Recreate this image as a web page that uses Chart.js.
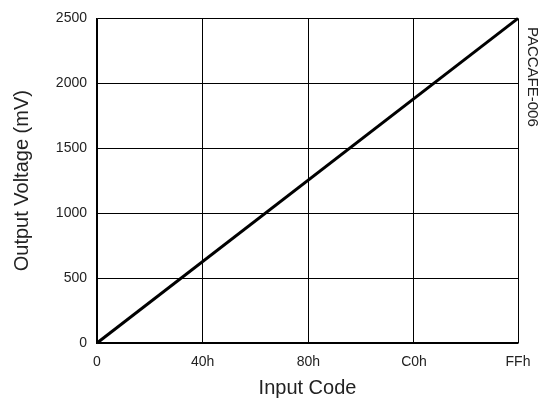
<!DOCTYPE html>
<html>
<head>
<meta charset="utf-8">
<script src="https://cdn.jsdelivr.net/npm/chart.js@4"></script>
<style>
  html, body { margin: 0; padding: 0; background: #fff; }
  #wrap { width: 549px; height: 400px; }
</style>
</head>
<body>
<div id="wrap"><canvas id="dacChart"></canvas></div>
<script>
// transfer curve end points, input code vs output voltage (mV)
const inputCodes = [0, 255];
const outputMv = [0, 2500];
const xTickValues = [0, 64, 128, 192, 255];
const xTickLabels = ['0', '40h', '80h', 'C0h', 'FFh'];
const yTickValues = [0, 500, 1000, 1500, 2000, 2500];

const font = 'Liberation Sans, Arial, sans-serif';

// figure id written down the right side
const sideLabel = {
    id: 'sideLabel',
    afterDraw(chart) {
        const c = chart.ctx;
        c.save();
        c.translate(532, 27);
        c.rotate(Math.PI / 2);
        c.font = '15px ' + font;
        c.fillStyle = '#222';
        c.textAlign = 'left';
        c.textBaseline = 'middle';
        c.fillText('PACCAFE-006', 0, 0);
        c.restore();
    }
};

const ctx = document.getElementById('dacChart').getContext('2d');
const dacChart = new Chart(ctx, {
    type: 'line',
    data: {
        datasets: [{
            data: inputCodes.map((x, i) => ({ x: x, y: outputMv[i] })),
            borderColor: '#000',
            borderWidth: 3,
            pointRadius: 0,
            fill: false,
            clip: false
        }]
    },
    options: {
        responsive: true,
        maintainAspectRatio: false,
        animation: false,
        layout: { padding: { top: 14, right: 31, left: 0, bottom: 0 } },
        scales: {
            x: {
                type: 'linear',
                min: 0,
                max: 255,
                afterBuildTicks: s => { s.ticks = xTickValues.map(v => ({ value: v })); },
                afterFit: s => { s.height = 57; },
                grid: { color: '#000', lineWidth: 1, drawTicks: false },
                border: { color: '#000', width: 1.5 },
                ticks: {
                    padding: 11,
                    color: '#222',
                    font: { family: font, size: 14 },
                    callback: v => xTickLabels[xTickValues.indexOf(v)]
                },
                title: {
                    display: true,
                    text: 'Input Code',
                    color: '#222',
                    font: { family: font, size: 20 },
                    padding: { top: 0, bottom: 0 }
                }
            },
            y: {
                min: 0,
                max: 2500,
                afterBuildTicks: s => { s.ticks = yTickValues.map(v => ({ value: v })); },
                afterFit: s => { s.width = 97; },
                grid: { color: '#000', lineWidth: 1, drawTicks: false },
                border: { color: '#000', width: 1.5 },
                ticks: {
                    padding: 10,
                    color: '#222',
                    font: { family: font, size: 14 },
                    callback: v => String(v)
                },
                title: {
                    display: true,
                    text: 'Output Voltage (mV)',
                    color: '#222',
                    font: { family: font, size: 20 },
                    padding: { top: 10, bottom: 0 }
                }
            }
        },
        plugins: {
            legend: { display: false },
            tooltip: { enabled: false }
        }
    },
    plugins: [sideLabel]
});
</script>
</body>
</html>
